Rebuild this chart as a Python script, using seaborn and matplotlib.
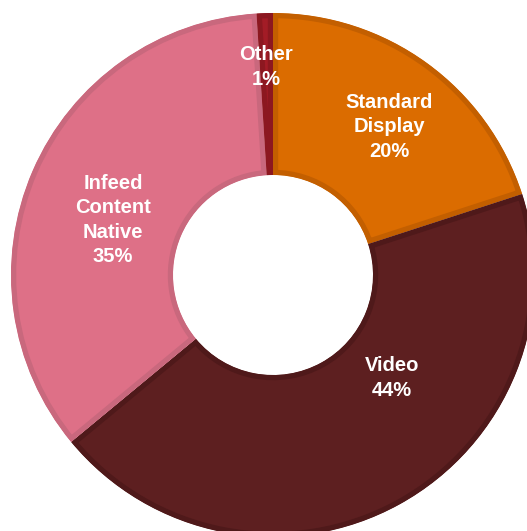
import matplotlib
matplotlib.use("Agg")
import matplotlib.pyplot as plt
import seaborn as sns

sns.set_theme(style="white")
plt.rcParams['font.family'] = ['Liberation Sans', 'DejaVu Sans']

categories = ["Standard\nDisplay", "Video", "Infeed\nContent\nNative", "Other"]
values = [20, 44, 35, 1]
fill_colors = ["#DB6C00", "#5D1F20", "#DE7087", "#A31C26"]
edge_colors = ["#C35F00", "#4F191A", "#C9687D", "#8C1820"]
# label anchor positions in pixel layout (x, y from top)
label_pos = [(389, 127), (392, 378), (113, 220), (266, 67)]

W, H = 527, 531
cx, cy = 273, 275
R, hole = 262, 100

fig = plt.figure(figsize=(W / 100, H / 100), dpi=100)
ax = fig.add_axes([0, 0, 1, 1])
wedges, _ = ax.pie(values, colors=fill_colors, startangle=90, counterclock=False,
                   center=(cx, H - cy), radius=R,
                   wedgeprops=dict(width=R - hole, linewidth=7.5))
for w, ec in zip(wedges, edge_colors):
    w.set_edgecolor(ec)
    w.set_clip_on(True)
    w.set_clip_path(w)

for cat, v, (lx, ly) in zip(categories, values, label_pos):
    ax.text(lx, H - ly, f"{cat}\n{v}%", ha="center", va="center", color="white",
            fontsize=14.5, fontweight="bold", linespacing=1.36)

ax.set_xlim(0, W)
ax.set_ylim(0, H)
ax.set_aspect("equal")
ax.axis("off")
fig.savefig("out.png", dpi=100)
